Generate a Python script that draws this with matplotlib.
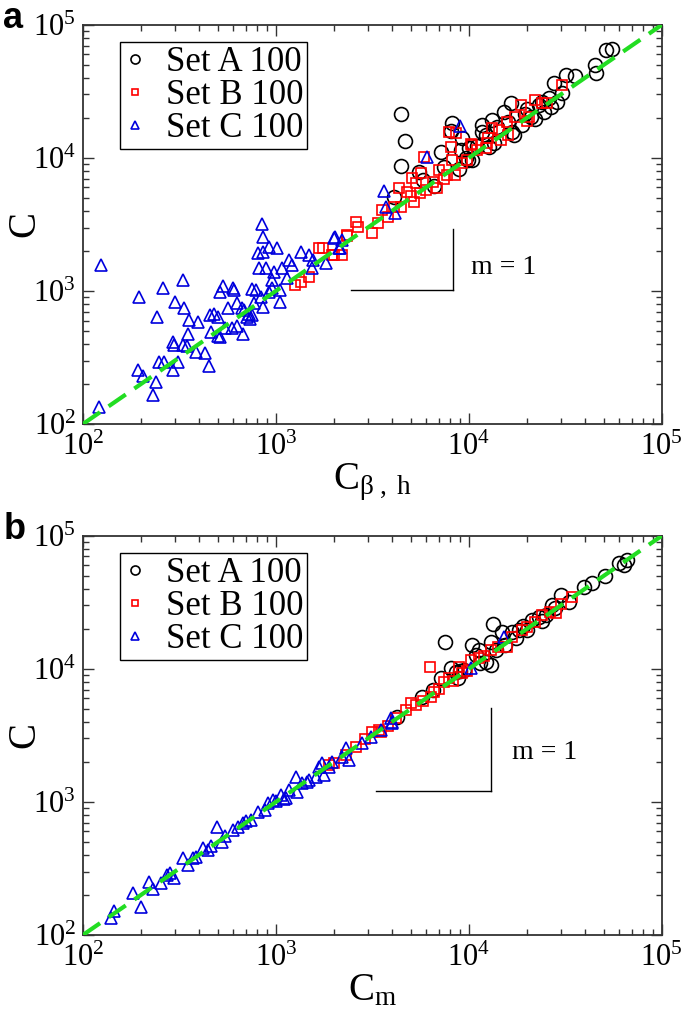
import math
import matplotlib
matplotlib.use("Agg")
import matplotlib.pyplot as plt
import matplotlib.ticker as ticker

plt.rcParams["font.family"] = "serif"
plt.rcParams["font.serif"] = ["Liberation Serif", "DejaVu Serif"]
plt.rcParams["mathtext.fontset"] = "custom"
plt.rcParams["mathtext.rm"] = "Liberation Serif"
plt.rcParams["mathtext.it"] = "Liberation Serif:italic"
plt.rcParams["mathtext.bf"] = "Liberation Serif:bold"

# ---------------------------------------------------------------------------
# Data (panel a: C vs C_beta,h ; panel b: C vs C_m)
# ---------------------------------------------------------------------------
a_setA_x = [4467, 4688, 4467, 5535, 7194, 7459, 8204, 8110, 9247, 9140,
            9700, 10420, 11720, 11720, 12310, 13210, 15240, 16560, 16760, 17180,
            18880, 21030, 23130, 24550, 26690, 28620, 27660, 30420, 31910, 35480,
            45080, 45600, 51400, 55210, 4110, 9950, 14000, 19500, 22000, 11000,
            12800, 16000, 20000, 26000, 6600, 5800, 8900, 10000, 13500, 24000]
a_setA_y = [21430, 13420, 8710, 7850, 11100, 8550, 18330, 15960, 14130, 11480,
            10000, 9666, 17700, 15660, 14890, 19320, 22180, 25920, 15660, 14890,
            17700, 20350, 25000, 22180, 24270, 26520, 36650, 30830, 42070, 41400,
            50000, 43550, 64860, 66000, 5094, 9666, 17000, 21500, 19500, 12300,
            12000, 18500, 23500, 28000, 6200, 6800, 8200, 11900, 13000, 26500]

a_setB_x = [1683, 1753, 2014, 2213, 2350, 1250, 1358, 1493, 1963, 2350,
            2615, 2677, 3162, 3396, 3565, 4365, 4467, 4797, 5222, 5346,
            5675, 6025, 5877, 6871, 7031, 7727, 8505, 8204, 8110, 8610,
            9247, 10420, 12310, 12450, 13210, 14350, 14710, 15810, 17380, 18660,
            20510, 22060, 23990, 25460, 30420, 7925, 12590, 10300, 3800, 4100,
            5000, 5600, 6500, 7400, 9800, 11000, 16000, 20000, 5093]
a_setB_y = [2104, 2104, 1866, 1866, 2594, 1109, 1169, 1276, 1866, 2637,
            3302, 3030, 2729, 3246, 4064, 5943, 4285, 5546, 4667, 6486,
            7709, 5741, 10190, 5943, 8128, 7447, 7447, 9666, 12110, 15420,
            9165, 12540, 11880, 12970, 16830, 16250, 13630, 18650, 20350, 25000,
            20350, 27290, 25920, 25920, 35400, 15660, 14130, 12740, 3600, 4300,
            5200, 5500, 6600, 7000, 9700, 11500, 15000, 19000, 7080]

a_setC_x = [124, 121, 195, 259, 329, 241, 299, 333, 353, 393,
            349, 292, 296, 329, 345, 384, 428, 449, 310, 292,
            247, 262, 193, 204, 239, 230, 454, 476, 499, 459,
            499, 511, 543, 563, 530, 511, 597, 604, 627, 665,
            681, 627, 590, 673, 723, 731, 757, 794, 767, 853,
            833, 843, 853, 804, 853, 927, 1009, 814, 885, 973,
            951, 927, 1057, 1057, 1071, 1136, 1164, 1219, 1358, 1493,
            1567, 1549, 1828, 2037, 2213, 2163, 757, 705, 951, 3648,
            3741, 4159, 6095, 9036, 2014, 2138]
a_setC_y = [1567, 134, 902, 1054, 1211, 638, 826, 745, 605, 585,
            475, 414, 393, 393, 386, 348, 342, 273, 292, 255,
            292, 292, 255, 230, 207, 165, 661, 672, 638, 492,
            459, 451, 527, 745, 1091, 982, 1054, 1019, 813, 745,
            720, 546, 527, 475, 672, 615, 1035, 1019, 813, 759,
            902, 3192, 2547, 1932, 1965, 2143, 2104, 1489, 1489, 1390,
            1054, 982, 1019, 826, 1489, 1253, 1710, 1567, 1965, 1866,
            1710, 1489, 1625, 2547, 2415, 2104, 661, 638, 1211, 5649,
            4285, 3855, 10190, 17420, 2500, 2104]

b_setA_x = [7555, 10420, 13370, 14890, 13060, 8110, 8610, 10910, 13060, 12310,
            16760, 18230, 21290, 27000, 30060, 33040, 39540, 43450, 50820, 60000,
            65940, 63650, 4266, 5745, 7194, 11310, 13860, 23130, 25120, 9500,
            11500, 15500, 17500, 20000, 6500, 8800, 19000, 24000, 28000, 9000]
b_setA_y = [15960, 15140, 21780, 18970, 15960, 10190, 9480, 12740, 10720, 11300,
            18970, 19640, 23330, 30280, 35970, 31920, 41400, 44360, 50000, 62660,
            66070, 60530, 4355, 6152, 8550, 13890, 13890, 24600, 25460, 9800,
            11000, 15000, 17000, 19500, 7000, 8600, 21000, 23000, 28500, 9600]

b_setB_x = [1895, 2014, 2612, 3162, 3436, 3524, 4207, 4742, 5346, 6383,
            6620, 6310, 7459, 7925, 8920, 9247, 10290, 11310, 13060, 15810,
            16760, 18880, 23990, 26370, 28320, 34230, 5035, 2300, 2900, 3800,
            5800, 7000, 8300, 9800, 12000, 14200, 20000, 22000, 30000]
b_setB_y = [1900, 1963, 2594, 3357, 3475, 3357, 4285, 4920, 5358, 6152,
            6712, 10350, 7980, 8550, 10350, 9330, 11700, 12110, 13890, 14620,
            17420, 19640, 25460, 26850, 26370, 34750, 5546, 2250, 2950, 3750,
            5700, 7100, 8100, 9700, 12500, 14500, 20800, 22500, 30500]

b_setC_x = [140, 145, 181, 200, 219, 230, 253, 282, 296, 329,
            349, 384, 418, 444, 493, 524, 543, 597, 673, 748,
            804, 906, 962, 1069, 1135, 1177, 1265, 1295, 1374, 1493,
            1624, 1683, 1744, 1786, 1895, 2213, 2321, 2405, 2813, 3126,
            4017, 3972, 15240, 10290, 272, 370, 460, 640, 700, 880,
            1000, 1100, 1450, 1950, 3500, 4017]
b_setC_y = [134, 152, 207, 162, 250, 222, 246, 292, 268, 379,
            336, 386, 451, 436, 649, 500, 555, 615, 695, 732,
            841, 982, 1035, 1130, 1072, 1231, 1541, 1189, 1390, 1462,
            1541, 1832, 1963, 1596, 1832, 2178, 2547, 2070, 2780, 3083,
            4000, 4285, 17420, 10190, 282, 380, 470, 650, 720, 870,
            1010, 1060, 1420, 1990, 3450, 3940]

labels = ["Set A 100", "Set B 100", "Set C 100"]
xlabels = [r"$\mathrm{C}_{\mathrm{β\ ,\ h}}$", r"$\mathrm{C}_{\mathrm{m}}$"]
panel_tags = ["a", "b"]
lims = (100, 100000)
# slope guides: (x0, x1, y0, y1, text x, text y)
slope_a = (2467, 8318, 1017, 2924, 10280, 1514)
slope_b = (3296, 13000, 1211, 5094, 16790, 2334)

panels = [
    ((a_setA_x, a_setA_y), (a_setB_x, a_setB_y), (a_setC_x, a_setC_y), slope_a),
    ((b_setA_x, b_setA_y), (b_setB_x, b_setB_y), (b_setC_x, b_setC_y), slope_b),
]

styles = [
    dict(marker="o", color="black", ms=10),
    dict(marker="s", color="red", ms=7),
    dict(marker="^", color="#0000dd", ms=8.5),
]


def pow10(v, pos):
    return r"$\mathrm{10^{%d}}$" % round(math.log10(v))


fig = plt.figure(figsize=(6.85, 10.26), dpi=100)
axes_rects = [[0.121, 0.5867, 0.845, 0.389], [0.121, 0.0887, 0.845, 0.389]]

for rect, (A, B, Cs, slope), xl, tag in zip(axes_rects, panels, xlabels, panel_tags):
    ax = fig.add_axes(rect)
    for (xs, ys), st, lab in zip((A, B, Cs), styles, labels):
        ax.plot(xs, ys, linestyle="none", marker=st["marker"], ms=st["ms"],
                mfc="none", mec=st["color"], mew=1.2, label=lab)
    ax.plot(lims, lims, color="#22dd22", lw=3, dashes=(5, 2.5), zorder=5)

    x0, x1, y0, y1, tx, ty = slope
    ax.plot([x0, x1], [y0, y0], color="black", lw=1)
    ax.plot([x1, x1], [y0, y1], color="black", lw=1)
    ax.text(tx, ty, "m = 1", fontsize=20, va="center", ha="left")

    ax.set_xscale("log")
    ax.set_yscale("log")
    ax.set_xlim(*lims)
    ax.set_ylim(*lims)
    ax.xaxis.set_major_formatter(ticker.FuncFormatter(pow10))
    ax.yaxis.set_major_formatter(ticker.FuncFormatter(pow10))
    ax.tick_params(which="both", direction="in", top=True, right=True,
                   labelsize=22, width=1, color="#333333")
    ax.tick_params(which="major", length=8)
    ax.tick_params(axis="x", which="major", pad=6)
    ax.tick_params(axis="y", which="major", pad=5)
    ax.tick_params(which="minor", length=4)
    for s in ax.spines.values():
        s.set_linewidth(1.3)
        s.set_color("#333333")

    ax.set_xlabel(xl, fontsize=28, labelpad=0)
    ax.set_ylabel("C", fontsize=28)
    ax.yaxis.set_label_coords(-0.068, 0.5)

    leg = ax.legend(loc="upper left", bbox_to_anchor=(0.064, 0.957),
                    borderaxespad=0, fontsize=25, markerscale=0.65,
                    handlelength=0.6, handletextpad=0.6, labelspacing=0.0,
                    borderpad=0.12, fancybox=False, framealpha=1,
                    edgecolor="black")
    leg.get_frame().set_linewidth(1)

    fig.text(0.005, rect[1] + rect[3] + 0.0235, tag, fontsize=26,
             fontweight="bold", family="Liberation Sans", va="top", ha="left")

fig.savefig("out.png", dpi=100)
